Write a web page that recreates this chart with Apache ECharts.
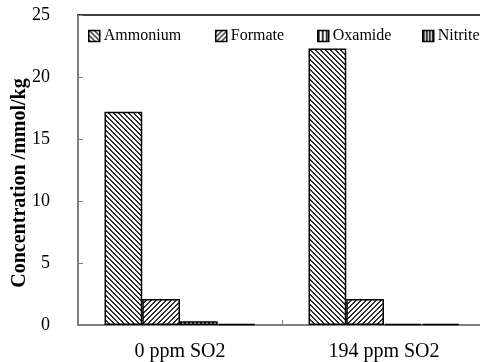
<!DOCTYPE html>
<html>
<head>
<meta charset="utf-8">
<script src="https://cdn.jsdelivr.net/npm/echarts@6/dist/echarts.min.js"></script>
<style>
html,body{margin:0;padding:0;background:#fff;}
#chart{width:480px;height:362px;}
</style>
</head>
<body>
<div id="chart"></div>
<script>
var categories = ['0 ppm SO2', '194 ppm SO2'];
var seriesNames = ['Ammonium', 'Formate', 'Oxamide', 'Nitrite'];
var ammonium = [17.2, 22.3];
var formate = [2.1, 2.1];
var oxamide = [0.3, 0.1];
var nitrite = [0.1, 0.1];
var yTicks = [0, 5, 10, 15, 20, 25];

function makePattern(size, test) {
  var c = document.createElement('canvas');
  c.width = size; c.height = size;
  var ctx = c.getContext('2d');
  var img = ctx.createImageData(size, size);
  for (var y = 0; y < size; y++) {
    for (var x = 0; x < size; x++) {
      var i = (y * size + x) * 4;
      var v = test(x, y) ? 50 : 255;
      img.data[i] = v; img.data[i+1] = v; img.data[i+2] = v; img.data[i+3] = 255;
    }
  }
  ctx.putImageData(img, 0, 0);
  return {image: c, repeat: 'repeat'};
}
var patterns = [
  makePattern(5, function(x, y){ return ((x - y) % 5 + 5) % 5 < 2; }),
  makePattern(5, function(x, y){ return (x + y) % 5 < 2; }),
  makePattern(4, function(x, y){ return x % 4 < 2; }),
  makePattern(3, function(x, y){ return x % 3 < 2; })
];
var dataSets = [ammonium, formate, oxamide, nitrite];
var legendLefts = [88, 215, 317, 422];
var fontFam = '"Liberation Serif", "Times New Roman", serif';

var chart = echarts.init(document.getElementById('chart'));
var series = seriesNames.map(function(n, i){
  return {
    name: n, type: 'bar', data: dataSets[i],
    barGap: '0%', barCategoryGap: '26%',
    itemStyle: {color: patterns[i], borderColor: '#000', borderWidth: 1.5},
    emphasis: {disabled: true}
  };
});
var legends = seriesNames.map(function(n, i){
  return {
    data: [n], left: legendLefts[i], top: 28, padding: 0,
    icon: 'rect', itemWidth: 11, itemHeight: 11, itemGap: 0,
    itemStyle: {borderColor: '#000', borderWidth: 1.5},
    textStyle: {fontFamily: fontFam, fontSize: 16, color: '#000', padding: [0,0,0,-1]}
  };
});
chart.setOption({
  animation: false,
  grid: {left: 78, top: 15, width: 408, bottom: 37, containLabel: false, outerBoundsMode: 'none'},
  legend: legends,
  xAxis: [{
    type: 'category', data: categories,
    axisLine: {lineStyle: {color: '#808080', width: 2}},
    axisTick: {show: true, inside: true, length: 5, lineStyle: {color: '#808080', width: 1}},
    axisLabel: {fontFamily: fontFam, fontSize: 20, color: '#000', margin: 17}
  }, {
    type: 'category', data: categories, position: 'top',
    axisLine: {lineStyle: {color: '#000', width: 1.5}},
    axisTick: {show: false}, axisLabel: {show: false}
  }],
  yAxis: {
    type: 'value', min: yTicks[0], max: yTicks[yTicks.length - 1], interval: 5,
    name: 'Concentration /mmol/kg', nameLocation: 'middle', nameGap: 48, nameMoveOverlap: false,
    nameTextStyle: {fontFamily: fontFam, fontSize: 20, fontWeight: 'bold', color: '#000', padding: [0, 26, 0, 0]},
    axisLine: {show: true, lineStyle: {color: '#808080', width: 2}},
    axisTick: {show: true, inside: true, length: 5, lineStyle: {color: '#808080', width: 1}},
    splitLine: {show: false},
    axisLabel: {fontFamily: fontFam, fontSize: 18, color: '#000', margin: 28}
  },
  series: series
});
</script>
</body>
</html>
